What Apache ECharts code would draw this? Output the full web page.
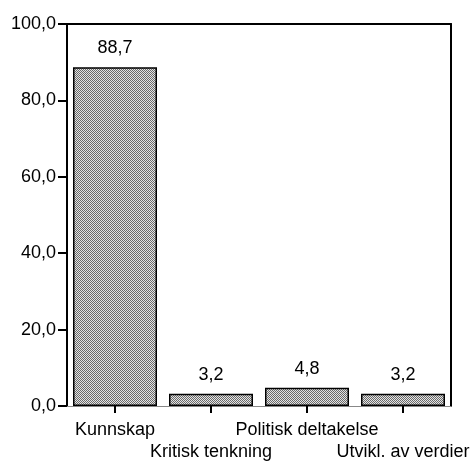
<!DOCTYPE html>
<html>
<head>
<meta charset="utf-8">
<script src="https://cdn.jsdelivr.net/npm/echarts@6/dist/echarts.min.js"></script>
<style>
  html, body { margin: 0; padding: 0; background: #fff; }
  #main { width: 472px; height: 461px; }
</style>
</head>
<body>
<div id="main"></div>
<script>
// data
const categories = ['Kunnskap', 'Kritisk tenkning', 'Politisk deltakelse', 'Utvikl. av verdier'];
const percents = [88.7, 3.2, 4.8, 3.2];
const yTicks = [0, 20, 40, 60, 80, 100];

const fmt = v => Number(v).toFixed(1).replace('.', ',');

// fine dotted fill like the old SPSS bars
function makePattern() {
  const c = document.createElement('canvas');
  c.width = 4; c.height = 4;
  const ctx = c.getContext('2d');
  ctx.fillStyle = '#e4e4e4';
  ctx.fillRect(0, 0, 4, 4);
  ctx.fillStyle = '#6a6a6a';
  for (let y = 0; y < 4; y++) {
    for (let x = 0; x < 4; x++) {
      if ((x + y) % 2 === 0) ctx.fillRect(x, y, 1, 1);
    }
  }
  return c;
}

const font = 'Liberation Sans, Arial, sans-serif';
const chart = echarts.init(document.getElementById('main'), null, { renderer: 'canvas' });

chart.setOption({
  animation: false,
  grid: { left: 67, right: 21, top: 24, bottom: 55, outerBoundsMode: 'none', containLabel: false },
  xAxis: [{
    type: 'category',
    data: categories,
    axisLine: { lineStyle: { color: '#888', width: 1 } },
    axisTick: { show: true, alignWithLabel: true, length: 7, lineStyle: { color: '#000', width: 2 } },
    axisLabel: {
      interval: 0,
      margin: 13,
      color: '#000',
      fontFamily: font,
      fontSize: 18,
      lineHeight: 22,
      formatter: (v, i) => (i % 2 === 1 ? '\n' + v : v)
    }
  }, {
    type: 'category',
    position: 'top',
    data: categories,
    axisLine: { show: true, onZero: false, lineStyle: { color: '#000', width: 2 } },
    axisTick: { show: false },
    axisLabel: { show: false }
  }],
  yAxis: [{
    type: 'value',
    min: yTicks[0],
    max: yTicks[yTicks.length - 1],
    interval: 20,
    splitLine: { show: false },
    axisLine: { show: true, lineStyle: { color: '#000', width: 2 } },
    axisTick: { show: true, length: 9, lineStyle: { color: '#000', width: 2 } },
    axisLabel: {
      margin: 11,
      color: '#000',
      fontFamily: font,
      fontSize: 18,
      formatter: fmt
    }
  }, {
    type: 'value',
    position: 'right',
    min: 0,
    max: 100,
    splitLine: { show: false },
    axisLine: { show: true, onZero: false, lineStyle: { color: '#000', width: 2 } },
    axisTick: { show: false },
    axisLabel: { show: false }
  }],
  series: [{
    type: 'bar',
    data: percents,
    barCategoryGap: '12.5%',
    itemStyle: {
      color: { image: makePattern(), repeat: 'repeat' },
      borderColor: '#000',
      borderWidth: 1.5
    },
    label: {
      show: true,
      position: 'top',
      distance: 10,
      color: '#000',
      fontFamily: font,
      fontSize: 18,
      formatter: p => fmt(p.value)
    }
  }]
});
</script>
</body>
</html>
